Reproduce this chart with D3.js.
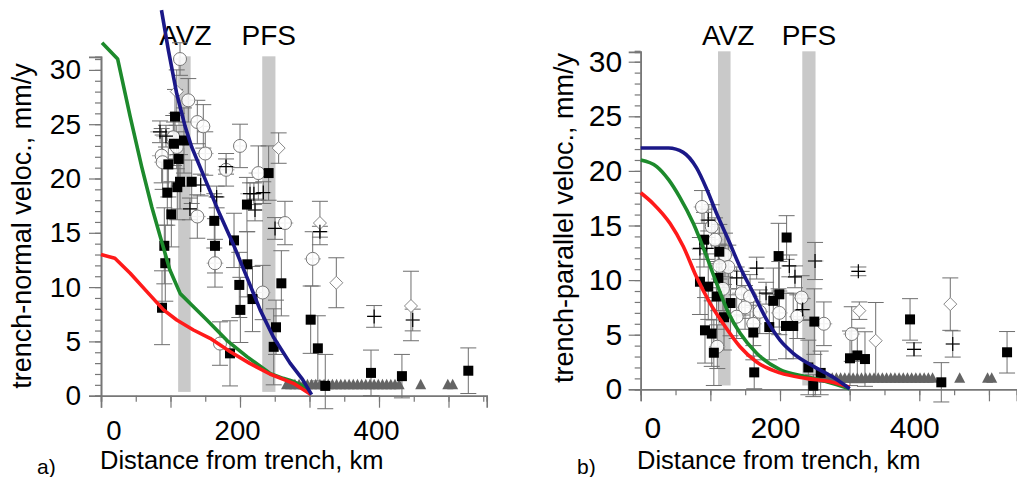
<!DOCTYPE html>
<html><head><meta charset="utf-8">
<script src="https://cdn.jsdelivr.net/npm/d3@7/dist/d3.min.js"></script>
<style>body{margin:0;background:#fff}svg{display:block}text{font-family:"Liberation Sans",Arial,Helvetica,sans-serif}</style>
</head><body>
<script>
// ---------- DATA ----------
const zoneNames = ["AVZ", "PFS"];
const zoneStartKm = [111, 232];
const zoneEndKm = [129, 251];
const xTickLabels = ["0", "200", "400"];
const yTickLabelsA = ["0","5","10","15","20","25","30"];

// panel a: model curves [km, mm/y]
const aBlue = [[87,35.5],[97,31.8],[109,27.8],[121,24.8],[130.5,22.9],[152,19.6],[171,16.7],[190,14.0],[210,10.9],[229,7.9],[248,5.4],[272,3.0],[290,1.5],[303,0.1]];
const aGreen = [[1.5,32.5],[24,31.0],[42,25.7],[58.5,21.1],[73,17.4],[85,14.7],[99,11.6],[114,9.4],[130.5,8.35],[152,7.0],[181,5.1],[210,3.6],[243,2.06],[262,1.6],[277,1.3],[290,0.9],[302,0.1]];
const aRed = [[0,13.0],[20,12.65],[42,11.27],[66,9.58],[90,7.9],[109,6.97],[133,6.05],[157,5.28],[186,4.05],[214,2.98],[243,2.0],[277,1.14],[302,0.1]];
// panel a observations [km, v, vErr, (kmErr)]
const aSquares = [[106.5,25.7,2.5],[105,23.2,2],[119.4,23.5,3],[111.8,21.8,2.5],[96.9,21.3,3],[113.7,19.7,2.5],[130.5,19.7,2],[109.8,19.2,3],[95.4,18.7,3],[101.2,16.7,3],[163,16.1,2.5],[210,17.6,2.5],[241.2,20.5,2.5],[91.1,13.8,3.5],[92.5,12.2,3.5],[87.8,8.1,3.4],[164,13.8,2.5],[191.4,14.3,2.5],[210.5,12.1,3],[199,10.2,3],[218,8.9,3],[200.5,7.9,3],[259.5,10.35,3],[251.8,6.3,2.5],[248.5,4.5,3.5],[185.6,3.9,3],[301.7,7.0,3.1],[312,4.36,3],[322.7,0.9,2.9],[388.5,2.1,2.1],[433,1.8,2],[528.5,2.3,2.1]];
const aCircles = [[113.7,31.0,1.5,10],[125.6,27.2,2,12],[138.6,25.2,2,12],[147.2,24.8,2,10],[200,23.0,2,10],[150,22.3,2,12],[87.3,22.1,2.5,14],[88.7,21.5,2.5,12],[109,22.9,2,12],[104,23.8,2,10],[180,20.8,1.5,12],[226.4,20.5,2.5,14],[138.6,16.5,2,12],[264.7,15.9,2,12],[164,12.2,2.2,12],[232.6,9.5,2.5,12],[171.2,4.8,2,10],[304.6,12.6,2.5,12]];
const aDiamonds = [[255.6,22.8,1.4],[109,28,2],[315,15.9,2],[338.6,10.4,2.3],[446,8.26,3.2]];
const aPluses = [[84.9,24.3,1,14],[93.5,23.9,1,14],[143.4,19.4,1,12],[166.4,18.3,1,12],[179.9,21.1,0.7,12],[214.4,18.6,1,14],[220,18.6,1,12],[233.5,18.7,1,12],[221.6,17.1,1,12],[128,17.2,1,12],[315,15.1,0.5,12],[393,7.3,1,10],[448.5,6.97,1,10],[250.4,15.4,1,12]];
const aTriangles = [267,273,279,285,291,297,303,309,315,321,327,333,339,345,351,357,363,369,375,381,387,393,399,405,411,417,423,429,460,499,506];

// panel b: model curves
const bBlue = [[0,22.1],[40,22.1],[61,21.7],[80,20.3],[95,18.3],[109,16.1],[125.8,13.7],[142.6,11.2],[161.7,8.8],[181,6.35],[200,4.5],[219,3.3],[248,2.1],[276.5,1.1],[300,0.05]];
const bGreen = [[0,21.0],[23,20.4],[40,19.2],[56,17.6],[75.5,15.2],[95,12.1],[109,9.7],[126,7.0],[143,5.1],[166.5,3.3],[200,1.8],[238,1.15],[267,0.7],[300,0.05]];
const bRed = [[0,18.0],[18,17.0],[42,15.2],[61,13.1],[80,10.3],[99.5,7.9],[118.6,6.0],[142.6,3.9],[166.5,2.5],[200,1.5],[238,1.0],[272,0.7],[300,0.2]];
const bSquares = [[90.9,13.7,2.5],[112.9,12.6,2.5],[85.1,9.85,3],[97,9.4,3],[111.4,10.2,3],[109,8.5,3],[129,7.9,3],[119.6,6.6,3],[92.3,5.4,3],[102,5.1,3],[105,3.35,3],[161.7,5.2,2.5],[163,1.55,1.5],[198,12.2,3],[209.5,13.9,2],[190.4,8.1,3],[199,8.7,3],[184.6,5.7,3],[208.6,5.8,3],[219,5.8,3],[249.3,6.2,3],[240.7,2.0,2.5],[258.4,1.5,2],[247.8,0.33,1],[300.5,2.84,2.5],[311,3.1,2.5],[322,2.77,2.5],[386.7,6.4,1.9],[431.6,0.64,1.8],[526,3.39,1.9]];
const bCircles = [[88,16.7,1.5,12],[102,14.9,2,12],[106.7,13.7,2,12],[121,12.3,2,12],[125.8,11.2,2,12],[113,11.3,2,12],[118,9.2,2,12],[145,8.8,2,14],[157,8.5,2,12],[149.8,7.5,2,12],[137.8,6.65,2,14],[161.7,6.0,2,12],[171,7.1,2,12],[199,7.0,2,12],[224.8,6.65,2,12],[231,8.4,2,12],[263,6.0,2,12],[110,3.9,2,12],[303,5.06,2.5,12]];
const bDiamonds = [[313.9,7.2,0.8],[337.4,4.45,3.5],[444.5,7.8,2.4]];
const bPluses = [[97,15.5,1,12],[85,12.9,1,12],[94.8,12.9,1,12],[137.8,10.2,1,12],[166.5,11.1,1,12],[180,8.8,1,12],[213.4,11.3,1,12],[221.5,10.3,1,12],[232.5,7.3,1,12],[250.3,11.75,1.7,12],[312.5,10.8,0.4,10],[392.4,3.66,0.6,10],[448,4.15,1.2,10]];
const bTriangles = [263,269,275,281,287,293,299,305,311,317,323,329,335,341,347,353,359,365,371,377,383,389,395,401,407,413,419,458,498,504];

// ---------- DRAW ----------
const W = 1017, H = 477;
const svg = d3.select("body").append("svg").attr("width", W).attr("height", H);
const FONT = '"Liberation Sans",Arial,Helvetica,sans-serif';

function drawPanel(o) {
  const x = d3.scaleLinear().domain(o.xDomain).range(o.xRange);
  const y = d3.scaleLinear().domain(o.yDomain).range(o.yRange);
  const g = svg.append("g");

  // shaded zones
  g.selectAll("rect.zone").data(zoneNames).join("rect")
    .attr("x", (d,i) => x(zoneStartKm[i]))
    .attr("width", (d,i) => x(zoneEndKm[i]) - x(zoneStartKm[i]))
    .attr("y", y(o.yDomain[1] + 0.05)).attr("height", y(0.35) - y(o.yDomain[1] + 0.05))
    .attr("fill", "#c9c9c9");
  g.selectAll("text.zone").data(zoneNames).join("text")
    .attr("x", (d,i) => x((zoneStartKm[i] + zoneEndKm[i]) / 2) + o.zoneDx[i])
    .attr("y", 45).attr("text-anchor", "middle")
    .attr("font-size", 28).text(d => d);

  // axes
  const minorY = d3.axisLeft(y).tickValues(d3.range(0, 32, 1)).tickSize(6).tickFormat("");
  const majorY = d3.axisLeft(y).tickValues(d3.range(0, 31, 5)).tickSize(12).tickPadding(o.yPad)
    .tickFormat((d,i) => yTickLabelsA[i]);
  const gy1 = g.append("g").attr("transform", `translate(${o.xRange[0]},0)`).call(minorY);
  const gy2 = g.append("g").attr("transform", `translate(${o.xRange[0]},0)`).call(majorY);
  const minorX = d3.axisBottom(x).tickValues(d3.range(0, o.xDomain[1] + 1, 50)).tickSize(6).tickFormat("");
  const majorX = d3.axisBottom(x).tickValues(d3.range(0, o.xDomain[1] + 1, 100)).tickSize(12).tickPadding(o.xPad)
    .tickFormat(d => (d % 200 === 0 ? xTickLabels[d / 200] : ""));
  const gx1 = g.append("g").attr("transform", `translate(0,${o.yRange[0]})`).call(minorX);
  const gx2 = g.append("g").attr("transform", `translate(0,${o.yRange[0]})`).call(majorX);
  [gy1, gy2, gx1, gx2].forEach(a => {
    a.selectAll("path.domain").attr("stroke", "#777").attr("stroke-width", 1.6);
    a.selectAll(".tick line").attr("stroke", "#777").attr("stroke-width", 1.2);
    a.selectAll("text").attr("fill", "#000").attr("font-family", FONT).attr("font-size", o.tickFont);
  });
  gx2.selectAll("text").attr("text-anchor", "end").attr("dx", 20).attr("font-size", o.xTickFont);

  // error bars
  const eb = g.append("g").attr("fill", "none");
  const allV = [].concat(o.squares, o.circles, o.diamonds, o.pluses);
  eb.selectAll("path.v").data(allV).join("path")
    .attr("stroke", "#6f6f6f").attr("stroke-width", 1)
    .attr("d", d => {
      const cx = x(d[0]), t = y(d[1] + d[2]), b = y(Math.max(d[1] - d[2], o.yDomain[0] - 1.2));
      return `M${cx},${t}V${b}M${cx-8},${t}H${cx+8}M${cx-8},${b}H${cx+8}`;
    });
  eb.selectAll("path.h").data([].concat(o.circles, o.pluses)).join("path")
    .attr("stroke", "#b4b4b4").attr("stroke-width", 1.2)
    .attr("d", d => `M${x(d[0]-d[3])},${y(d[1])}H${x(d[0]+d[3])}`);

  // markers
  g.selectAll("path.tri").data(o.triangles).join("path")
    .attr("fill", "#646464")
    .attr("d", d => { const cx = x(d), cy = y(1.05); return `M${cx-5.5},${cy+5}L${cx},${cy-5.5}L${cx+5.5},${cy+5}Z`; });
  g.selectAll("circle.c").data(o.circles).join("circle")
    .attr("cx", d => x(d[0])).attr("cy", d => y(d[1])).attr("r", 6.5)
    .attr("fill", "#fff").attr("fill-opacity", 0.85).attr("stroke", "#777").attr("stroke-width", 1);
  g.selectAll("path.dia").data(o.diamonds).join("path")
    .attr("fill", "#fff").attr("stroke", "#888").attr("stroke-width", 1)
    .attr("d", d => { const cx = x(d[0]), cy = y(d[1]); return `M${cx},${cy-6.5}L${cx+6.5},${cy}L${cx},${cy+6.5}L${cx-6.5},${cy}Z`; });
  g.selectAll("rect.sq").data(o.squares).join("rect")
    .attr("x", d => x(d[0]) - 5).attr("y", d => y(d[1]) - 5).attr("width", 10).attr("height", 10)
    .attr("fill", "#000");
  g.selectAll("path.pl").data(o.pluses).join("path")
    .attr("stroke", "#000").attr("stroke-width", 1.2).attr("fill", "none")
    .attr("d", d => { const cx = x(d[0]), cy = y(d[1]); return `M${cx-7},${cy}H${cx+7}M${cx},${cy-7}V${cy+7}`; });

  // model curves
  const line = d3.line().x(d => x(d[0])).y(d => y(d[1])).curve(o.curve);
  [[o.green, "#1d8a2c"], [o.red, "#ff1a1a"], [o.blue, "#1b1888"]].forEach(([data, col]) => {
    g.append("path").datum(data).attr("d", line).attr("fill", "none")
      .attr("stroke", col).attr("stroke-width", 3.6).attr("stroke-linejoin", "round");
  });

  // titles
  g.append("text").attr("transform", `translate(${o.yTitleX},${o.yTitleY}) rotate(-90)`)
    .attr("text-anchor", "middle").attr("font-size", 27).text(o.yTitle);
  g.append("text").attr("x", o.xTitleX).attr("y", 469).attr("font-size", 25.5).text("Distance from trench, km");
  g.append("text").attr("x", o.tagX).attr("y", 474).attr("font-size", 21).text(o.tag);
}

drawPanel({
  xDomain: [0, 555], xRange: [101, 101 + 555 * 0.695],
  yDomain: [0, 31.2], yRange: [395.7, 395.7 - 31.2 * 10.86],
  zoneDx: [1, 0], yPad: 8, xPad: 12.5, tickFont: 28, xTickFont: 27.5, curve: d3.curveLinear,
  blue: aBlue, green: aGreen, red: aRed,
  squares: aSquares, circles: aCircles, diamonds: aDiamonds, pluses: aPluses, triangles: aTriangles,
  yTitle: "trench-normal veloc., mm/y", yTitleX: 31, yTitleY: 226,
  xTitleX: 100, tag: "a)", tagX: 37
});
drawPanel({
  xDomain: [0, 540], xRange: [640.7, 640.7 + 540 * 0.6965],
  yDomain: [0, 30.9], yRange: [389.3, 389.3 - 30.9 * 10.92],
  zoneDx: [4, 0], yPad: 6.5, xPad: 15.5, tickFont: 30, xTickFont: 30, curve: d3.curveMonotoneX,
  blue: bBlue, green: bGreen, red: bRed,
  squares: bSquares, circles: bCircles, diamonds: bDiamonds, pluses: bPluses, triangles: bTriangles,
  yTitle: "trench-parallel veloc., mm/y", yTitleX: 573, yTitleY: 218,
  xTitleX: 637, tag: "b)", tagX: 577
});
</script>
</body></html>
